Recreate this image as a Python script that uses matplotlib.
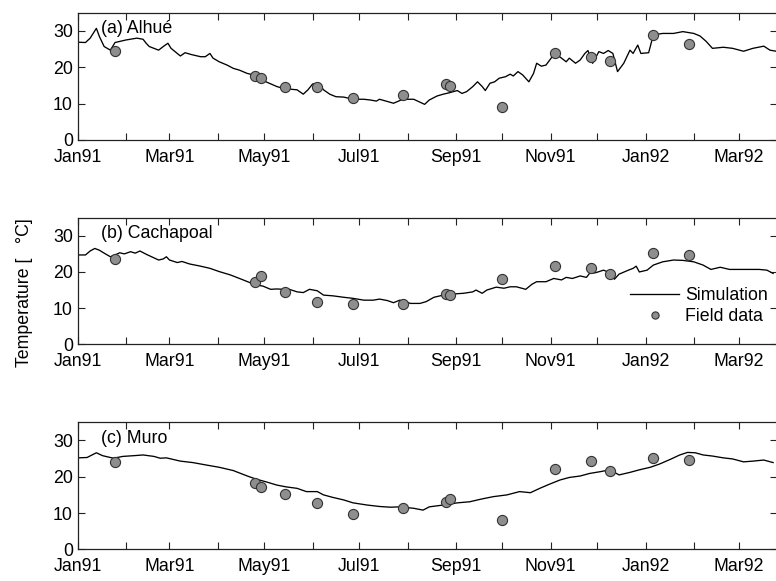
import numpy as np
import matplotlib
matplotlib.use("Agg")
import matplotlib.pyplot as plt
import matplotlib.dates as mdates
from matplotlib.lines import Line2D

plt.rcParams['font.family'] = ['Liberation Sans', 'DejaVu Sans']
plt.rcParams['font.size'] = 12.8

# ---- data -------------------------------------------------------------
record_start = "1991-01-01"
record_span_days = 449.5

# simulated water temperature, day offset from record start / degC
sim_days_a = [0, 5, 8, 12, 14, 17, 21, 24, 27, 31, 38, 42, 44, 46, 49, 52, 55, 58, 60, 66,
              69, 73, 79, 82, 85, 87, 91, 96, 100, 104, 109, 113, 117, 121, 128, 132, 136, 141, 145, 148,
              151, 155, 158, 162, 166, 171, 177, 184, 188, 192, 194, 199, 203, 209, 216, 223, 226, 231, 235, 239,
              244, 247, 250, 254, 257, 260, 262, 265, 268, 271, 275, 278, 280, 283, 286, 290, 293, 295, 298, 301,
              305, 307, 311, 314, 316, 320, 323, 326, 328, 331, 335, 338, 341, 344, 347, 351, 355, 357, 360, 362,
              367, 370, 376, 383, 389, 396, 400, 404, 408, 415, 421, 428, 434, 441, 445, 449]
sim_temp_a = [26.9, 26.8, 28.0, 30.7, 28.4, 25.7, 24.7, 26.8, 27.1, 27.5, 28.0, 27.7, 26.6, 25.7, 25.2, 24.7, 25.7, 26.6, 25.2, 23.1,
              24.0, 23.5, 22.9, 22.9, 23.8, 22.5, 21.5, 20.6, 19.7, 19.2, 18.3, 17.9, 17.2, 16.0, 14.7, 14.2, 14.0, 13.8, 12.6, 13.8,
              15.4, 15.6, 13.8, 12.6, 11.9, 11.8, 11.2, 11.2, 11.0, 10.7, 11.2, 10.6, 10.1, 11.2, 11.2, 9.8, 11.0, 12.1, 12.6, 13.0,
              13.6, 12.8, 13.3, 14.7, 16.0, 14.7, 13.6, 15.6, 16.0, 17.0, 17.4, 18.1, 17.6, 18.8, 17.9, 16.0, 18.3, 21.1, 20.3, 20.6,
              22.9, 23.8, 22.5, 21.5, 22.5, 21.1, 22.0, 23.8, 24.6, 21.1, 24.3, 23.8, 24.6, 23.8, 18.8, 21.1, 24.7, 23.8, 26.1, 23.8,
              24.0, 28.9, 29.3, 29.3, 29.8, 29.3, 28.6, 27.1, 25.2, 25.5, 25.2, 24.4, 25.2, 25.8, 24.7, 24.4]

sim_days_b = [0, 5, 8, 11, 14, 17, 21, 24, 27, 30, 34, 37, 40, 44, 49, 52, 55, 57, 59, 64,
              67, 72, 79, 85, 91, 98, 104, 111, 115, 119, 124, 128, 132, 136, 141, 145, 149, 154, 158, 164,
              171, 177, 184, 190, 194, 199, 203, 207, 214, 220, 224, 229, 235, 241, 248, 254, 256, 260, 263, 269,
              274, 278, 282, 288, 292, 295, 301, 306, 311, 314, 318, 323, 327, 329, 333, 338, 342, 345, 348, 354,
              357, 359, 361, 366, 370, 376, 383, 389, 396, 402, 407, 413, 419, 426, 432, 438, 443, 447]
sim_temp_b = [24.7, 24.7, 25.8, 26.5, 26.0, 25.2, 24.2, 24.7, 25.3, 25.0, 25.6, 25.2, 25.8, 24.9, 23.9, 23.3, 23.6, 24.2, 23.3, 22.6,
              22.9, 22.2, 21.6, 21.0, 20.1, 19.2, 18.2, 17.0, 16.4, 16.1, 15.2, 15.3, 15.2, 15.2, 14.5, 14.3, 15.2, 14.8, 13.6, 13.4,
              13.0, 12.7, 12.2, 12.2, 12.5, 12.1, 11.5, 12.2, 11.3, 11.3, 11.8, 13.0, 13.6, 13.9, 14.1, 14.5, 15.0, 14.1, 15.0, 15.8,
              15.5, 15.9, 15.9, 15.2, 16.6, 17.3, 17.3, 18.2, 17.8, 18.5, 18.2, 18.9, 18.5, 19.6, 19.8, 20.5, 19.8, 18.0, 19.4, 20.5,
              21.0, 21.6, 20.0, 20.5, 21.9, 22.8, 23.3, 23.2, 22.8, 21.9, 20.7, 21.3, 20.7, 20.7, 20.7, 20.7, 20.5, 19.6]

sim_days_c = [0, 6, 12, 16, 23, 29, 36, 42, 49, 53, 57, 61, 66, 74, 83, 91, 100, 109, 115, 121,
              128, 134, 141, 147, 154, 158, 164, 171, 177, 186, 194, 201, 207, 216, 222, 226, 235, 244, 252, 259,
              267, 276, 284, 291, 297, 303, 310, 316, 323, 329, 336, 342, 348, 355, 361, 368, 374, 381, 387, 392,
              397, 402, 408, 415, 421, 428, 434, 441, 447]
sim_temp_c = [25.2, 25.3, 26.6, 25.8, 25.1, 25.6, 25.8, 26.0, 25.6, 25.1, 25.2, 24.8, 24.3, 23.9, 23.2, 22.6, 21.7, 20.2, 19.3, 18.6,
              17.7, 17.2, 16.8, 15.9, 15.9, 15.0, 14.3, 13.6, 12.8, 12.2, 11.8, 11.6, 11.7, 11.3, 10.8, 11.7, 12.2, 12.8, 13.1, 13.8,
              14.5, 15.0, 15.9, 15.6, 16.8, 17.9, 19.1, 19.8, 20.2, 20.9, 21.4, 21.9, 20.5, 21.2, 21.9, 22.6, 23.5, 24.8, 26.0, 26.7,
              26.6, 26.0, 25.7, 25.2, 24.9, 24.1, 24.3, 24.6, 23.9]

# field campaigns (shared sampling dates)
field_dates = ["1991-01-25", "1991-04-25", "1991-04-29", "1991-05-14", "1991-06-04",
               "1991-06-27", "1991-07-29", "1991-08-26", "1991-08-28", "1991-10-01",
               "1991-11-04", "1991-11-27", "1991-12-09", "1992-01-06", "1992-01-29"]
field_a = [24.5, 17.7, 17.1, 14.7, 14.5, 11.5, 12.4, 15.3, 14.9, 9.0, 23.8, 22.9, 21.7, 28.9, 26.4]
field_b = [23.5, 17.3, 18.9, 14.4, 11.6, 11.1, 11.1, 13.9, 13.7, 18.0, 21.6, 21.2, 19.5, 25.3, 24.8]
field_c = [24.0, 18.4, 17.1, 15.2, 12.8, 9.7, 11.5, 12.9, 13.8, 8.1, 22.0, 24.2, 21.7, 25.2, 24.5]

panel_titles = ["(a) Alhu\u00e9", "(b) Cachapoal", "(c) Muro"]
y_ticks = [0, 10, 20, 30]
y_label = "Temperature [   \u00b0C]"
legend_labels = ["Simulation", "Field data"]

# ---- drawing ----------------------------------------------------------
W, H = 776, 581
fig = plt.figure(figsize=(W / 100, H / 100), dpi=100)

t0 = mdates.date2num(np.datetime64(record_start))
field_x = mdates.date2num(np.array(field_dates, dtype="datetime64[D]"))

panels = [
    (sim_days_a, sim_temp_a, field_a, (12.7, 140.0)),
    (sim_days_b, sim_temp_b, field_b, (217.7, 344.3)),
    (sim_days_c, sim_temp_c, field_c, (422.3, 549.3)),
]

x_left, x_right = 77.7, 777.0
dot_face = "#8e8e8e"
dot_edge = "#333333"
axes = []
for (days, temps, field, (ytop, ybot)), title in zip(panels, panel_titles):
    ax = fig.add_axes([x_left / W, 1 - ybot / H, (x_right - x_left) / W, (ybot - ytop) / H])
    ax.plot(t0 + np.asarray(days, float), temps, color="black", lw=0.95, zorder=2)
    ax.plot(field_x, field, ls="none", marker="o", ms=7.3, mfc=dot_face,
            mec=dot_edge, mew=0.8, zorder=3)
    ax.set_xlim(t0, t0 + record_span_days)
    ax.set_ylim(0, 35)
    ax.set_yticks(y_ticks)
    ax.xaxis.set_major_locator(mdates.MonthLocator(bymonth=[1, 3, 5, 7, 9, 11]))
    ax.xaxis.set_minor_locator(mdates.MonthLocator())
    ax.xaxis.set_major_formatter(mdates.DateFormatter("%b%y"))
    ax.tick_params(which="both", direction="in", top=True, right=True,
                   length=5, width=0.8, color="#222222")
    ax.tick_params(axis="x", which="major", pad=6.5)
    ax.tick_params(axis="y", which="major", pad=3.5)
    for sp in ax.spines.values():
        sp.set_linewidth(0.9)
        sp.set_color("#222222")
    ax.text(0.033, 0.872, title, transform=ax.transAxes, ha="left", va="center")
    axes.append(ax)

handles = [Line2D([], [], color="black", lw=0.95),
           Line2D([], [], ls="none", marker="o", ms=5.2, mfc=dot_face, mec=dot_edge, mew=0.8)]
axes[1].legend(handles, legend_labels, loc="upper left", bbox_to_anchor=(0.790, 0.45),
               frameon=False, borderpad=0, borderaxespad=0, handlelength=2.75,
               handletextpad=0.35, labelspacing=0.2)

fig.text(25 / W, 1 - 293 / H, y_label, rotation=90, ha="center", va="center")

fig.savefig("out.png", dpi=100)
